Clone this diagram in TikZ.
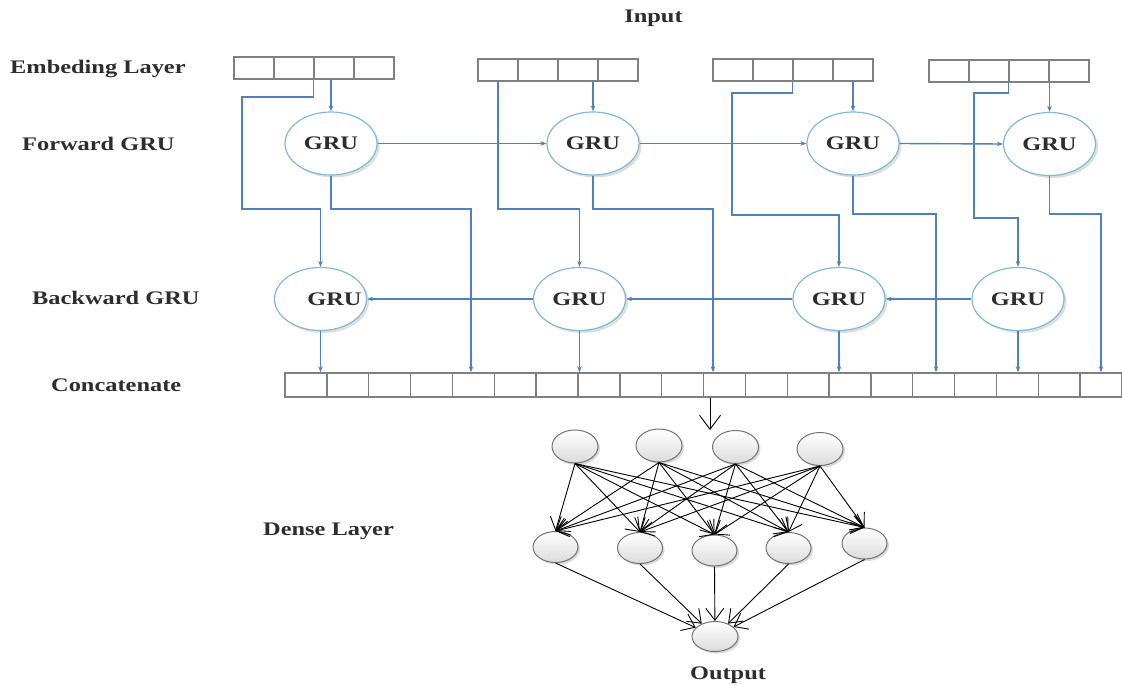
\documentclass[tikz,border=0pt]{standalone}
\usepackage{fontspec}
\setmainfont{Liberation Serif}
\newfontfamily\lblfont{Liberation Serif}[FakeStretch=1.27]
\usetikzlibrary{shapes.geometric,arrows.meta,shadows}
\definecolor{wire}{RGB}{79,129,189}
\definecolor{ring}{RGB}{128,186,210}
\definecolor{cellgray}{RGB}{128,128,128}
\definecolor{ink}{RGB}{45,45,45}
\begin{document}
\begin{tikzpicture}[x=1pt,y=-1pt,
  lbl/.style={font=\lblfont\bfseries\fontsize{19.2}{23}\selectfont, text=ink, inner sep=0pt},
  cell/.style={draw=cellgray, line width=1.4pt, minimum width=40pt, minimum height=22pt, inner sep=0pt},
  ccell/.style={cell, minimum width=41.85pt, minimum height=24pt},
  gru/.style={ellipse, draw=ring, line width=1.2pt, fill=white, minimum width=92pt, minimum height=63pt,
    inner sep=0pt, lbl, drop shadow={shadow xshift=2.5pt, shadow yshift=-2.5pt, fill=black!13, opacity=1}},
  unit/.style={ellipse, draw=black!55, line width=1pt, top color=white, bottom color=black!14,
    inner sep=0pt, drop shadow={shadow xshift=2pt, shadow yshift=-2pt, fill=black!15, opacity=1}},
  wireln/.style={draw=wire, line width=1.4pt},
  wirearr/.style={wireln, -{Stealth[length=6pt,width=4.5pt]}},
  dense/.style={draw=black, line width=0.9pt, -{Straight Barb[length=12pt,width=18pt]}},
]
\useasboundingbox (0,0) rectangle (1122,685);

% row captions
\node[lbl, anchor=base] (tin) at (653.5,23) {Input};
\node[lbl, anchor=base west] (temb) at (10,74) {Embeding Layer};
\node[lbl, anchor=base west] (tfwd) at (22,150.5) {Forward GRU};
\node[lbl, anchor=base west] (tbwd) at (32,304.5) {Backward GRU};
\node[lbl, anchor=base west] (tcat) at (51,391) {Concatenate};
\node[lbl, anchor=base west] (tden) at (263,535) {Dense Layer};
\node[lbl, anchor=base] (tout) at (728,679) {Output};

% embedding vectors, four cells each
\foreach \b/\x/\y in {1/234/57, 2/478/59, 3/713/59, 4/929/60}
  \foreach \c in {1,...,4}
    \node[cell] (e\b c\c) at ({\x+40*\c-20},{\y+11}) {};

% concatenated vector
\foreach \c in {1,...,20}
  \node[ccell] (cc\c) at ({285+41.85*\c-20.925},385) {};

% GRU cells
\node[gru] (F1) at (331,143.5) {GRU};
\node[gru] (F2) at (593,143.5) {GRU};
\node[gru] (F3) at (853,143.5) {GRU};
\node[gru] (F4) at (1049.5,144) {GRU};
\node[gru] (B1) at (320.5,299) {};
\node[lbl] (B1t) at (334.5,299) {GRU};
\node[gru] (B2) at (579.5,299) {GRU};
\node[gru] (B3) at (839,299) {GRU};
\node[gru] (B4) at (1018,299) {GRU};

% embeddings into the forward cells
\foreach \b/\c in {1/3, 2/3, 3/4, 4/3}
  \draw[wirearr] (F\b.north |- e\b c\c.south) -- (F\b.north);

% embeddings routed to the backward cells
\draw[wirearr] (e1c3.south west) |- (242,97) |- (B1.north |- 0,209) -- (B1.north);
\draw[wirearr] (e2c1.south) |- (B2.north |- 0,209) -- (B2.north);
\draw[wirearr] (e3c3.south west) |- (732,93) |- (B3.north |- 0,215) -- (B3.north);
\draw[wirearr] (e4c3.south west) |- (974,93) |- (B4.north |- 0,218) -- (B4.north);

% recurrent links
\draw[wirearr] (F1.east) -- (F2.west);
\draw[wirearr] (F2.east) -- (F3.west);
\draw[wirearr] (F3.east) -- (F4.west);
\draw[wirearr] (B4.west) -- (B3.east);
\draw[wirearr] (B3.west) -- (B2.east);
\draw[wirearr] (B2.west) -- (B1.east);

% forward states into the concatenation
\draw[wirearr] (F1.south) |- (471,209) -- (471,0 |- cc1.north);
\draw[wirearr] (F2.south) |- (713,209) -- (713,0 |- cc1.north);
\draw[wirearr] (F3.south) |- (936,214) -- (936,0 |- cc1.north);
\draw[wirearr] (F4.south) |- (1101,214) -- (1101,0 |- cc1.north);

% backward states into the concatenation
\foreach \b in {1,...,4}
  \draw[wirearr] (B\b.south) -- (B\b.south |- cc1.north);

% dense network
\node[unit, minimum width=46pt, minimum height=33pt] (D1) at (575,446.5) {};
\node[unit, minimum width=46pt, minimum height=33pt] (D2) at (659,445.5) {};
\node[unit, minimum width=46pt, minimum height=33pt] (D3) at (735.5,447) {};
\node[unit, minimum width=46pt, minimum height=33pt] (D4) at (820,449) {};
\node[unit, minimum width=45pt, minimum height=31pt] (E1) at (555.5,547) {};
\node[unit, minimum width=45pt, minimum height=31pt] (E2) at (640,548) {};
\node[unit, minimum width=45pt, minimum height=31pt] (E3) at (714.5,550.5) {};
\node[unit, minimum width=45pt, minimum height=31pt] (E4) at (788.5,548) {};
\node[unit, minimum width=45pt, minimum height=31pt] (E5) at (864.5,543.5) {};
\node[unit, minimum width=46pt, minimum height=30pt] (out) at (715,636.5) {};

\coordinate (dtop) at (710,430);
\draw[dense, -{Straight Barb[length=14pt,width=21pt]}] (710,0 |- cc11.south) -- (dtop);

\foreach \i in {1,...,4}
  \foreach \j in {1,...,5}
    \draw[dense] (D\i.south) -- (E\j.north);

\foreach \j in {1,...,5}
  \draw[dense] (E\j.south) -- (out);
\end{tikzpicture}
\end{document}
